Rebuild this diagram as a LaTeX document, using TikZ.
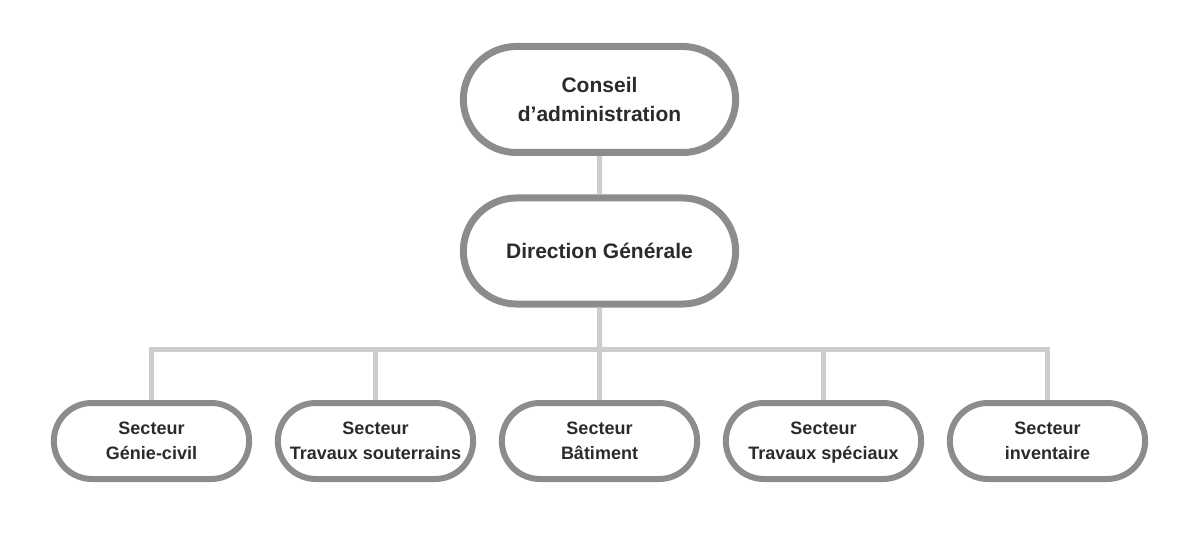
\documentclass[tikz,border=0pt]{standalone}
\usepackage{fontspec}
\setmainfont{Liberation Sans}
\usetikzlibrary{shapes.misc,positioning}
\definecolor{boxgray}{HTML}{8C8C8C}
\definecolor{linkgray}{HTML}{CDCDCD}
\definecolor{txtgray}{HTML}{2B2B2B}
\tikzset{
    unit/.style = {draw=boxgray, rounded rectangle, fill=white,
        text=txtgray, align=center, text depth=0pt},
    head/.style = {unit, line width=7pt,
        minimum width=279pt, minimum height=106pt,
        font=\fontsize{21}{29}\selectfont\bfseries},
    sector/.style = {unit, line width=6pt,
        minimum width=202pt, minimum height=76pt,
        font=\fontsize{18}{25}\selectfont\bfseries},
    link/.style = {draw=linkgray, line width=5pt}
}
\begin{document}
\begin{tikzpicture}[x=1pt, y=1pt, node distance=224pt]
    \useasboundingbox (0,0) rectangle (1200,-548);
    \node [head] (conseil) at (599.5,-99.5) {Conseil\\d’administration};
    \node [head, below of=conseil, node distance=151.5pt] (direction) {Direction Générale};
    \node [sector, below of=direction, node distance=190pt] (batiment) {Secteur\\Bâtiment};
    \node [sector, left of=batiment] (souterrains) {Secteur\\Travaux souterrains};
    \node [sector, left of=souterrains] (genie) {Secteur\\Génie-civil};
    \node [sector, right of=batiment] (speciaux) {Secteur\\Travaux spéciaux};
    \node [sector, right of=speciaux] (inventaire) {Secteur\\inventaire};
    \coordinate [below of=direction, node distance=98pt] (bus);
    % liaisons
    \draw [link] (conseil) -- (direction);
    \draw [link] (direction) -- (bus);
    \foreach \s in {genie,souterrains,batiment,speciaux,inventaire}
        \draw [link] (bus) -| (\s);
\end{tikzpicture}
\end{document}
